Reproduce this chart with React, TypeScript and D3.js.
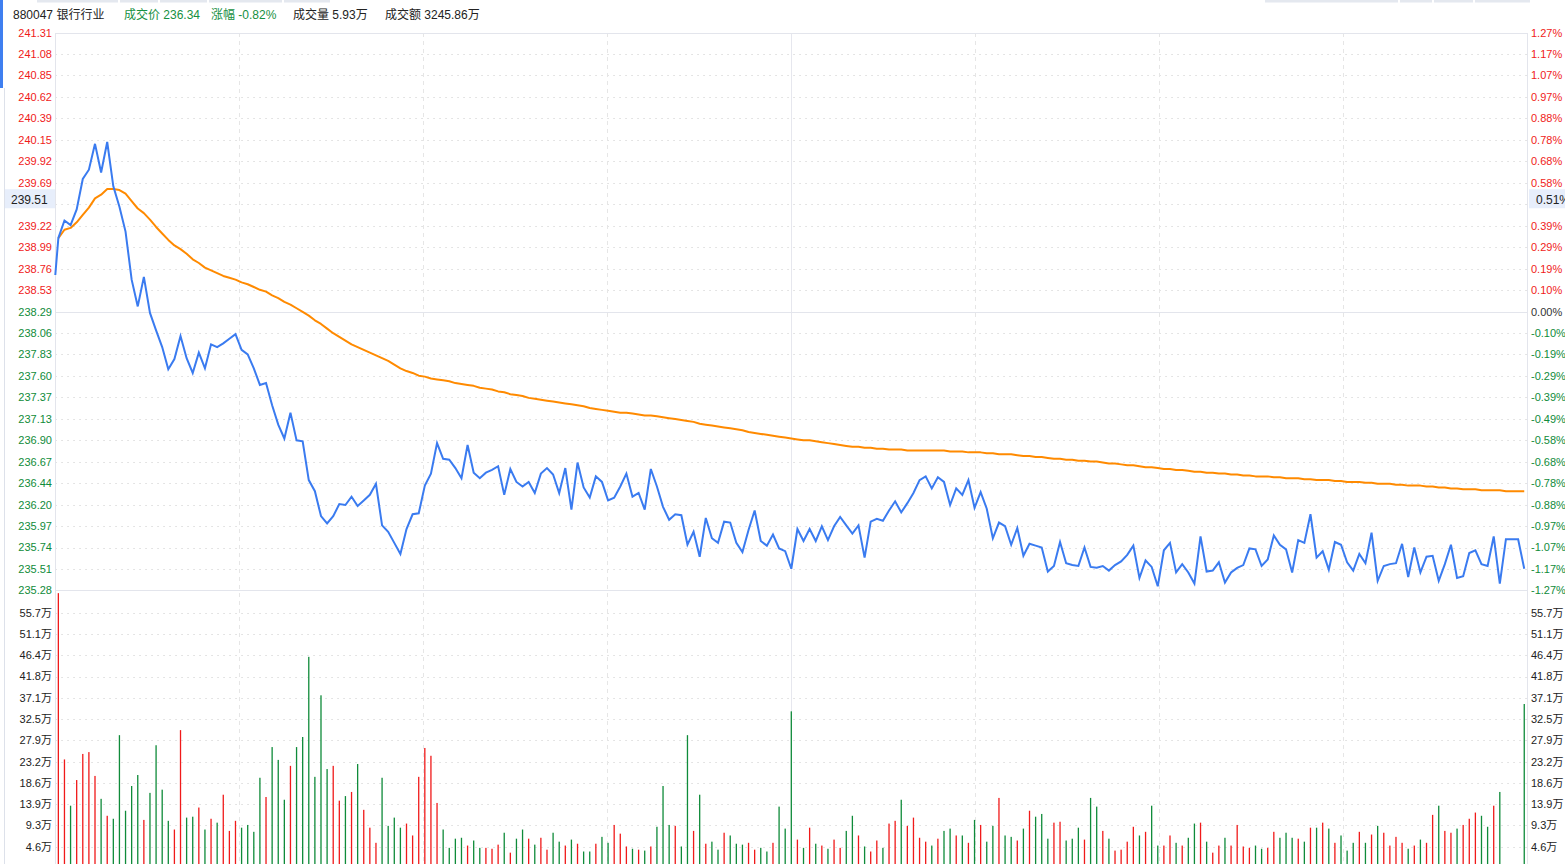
import React, { useRef, useEffect } from "react";
import * as d3 from "d3";

// 昨收 and the first printed point at the left edge
const prevClose = 238.29;
const openPrice = 238.69;

// minute prices, 9:30 .. 15:00 (241 bars)
const prices = [
  239.09, 239.28, 239.23, 239.40, 239.73, 239.83, 240.11, 239.80, 240.13, 239.65,
  239.43, 239.16, 238.64, 238.35, 238.67, 238.28, 238.09, 237.91, 237.67, 237.78,
  238.03, 237.79, 237.63, 237.85, 237.68, 237.94, 237.91, 237.95, 238.00, 238.05,
  237.88, 237.83, 237.68, 237.50, 237.52, 237.28, 237.07, 236.92, 237.20, 236.90,
  236.89, 236.47, 236.35, 236.08, 236.00, 236.08, 236.21, 236.20, 236.29, 236.19,
  236.25, 236.31, 236.43, 235.98, 235.91, 235.79, 235.67, 235.94, 236.10, 236.11,
  236.41, 236.54, 236.87, 236.70, 236.69, 236.60, 236.49, 236.85, 236.55, 236.49,
  236.55, 236.58, 236.62, 236.31, 236.59, 236.45, 236.40, 236.45, 236.33, 236.54,
  236.60, 236.53, 236.33, 236.60, 236.15, 236.66, 236.39, 236.28, 236.51, 236.45,
  236.25, 236.28, 236.40, 236.54, 236.29, 236.33, 236.15, 236.59, 236.40, 236.18,
  236.04, 236.10, 236.09, 235.77, 235.91, 235.64, 236.06, 235.84, 235.79, 236.02,
  236.01, 235.79, 235.69, 235.93, 236.14, 235.81, 235.76, 235.88, 235.73, 235.70,
  235.51, 235.94, 235.81, 235.94, 235.81, 235.97, 235.82, 235.97, 236.07, 235.98,
  235.89, 235.98, 235.63, 236.02, 236.05, 236.03, 236.14, 236.24, 236.12, 236.22,
  236.33, 236.47, 236.51, 236.38, 236.50, 236.45, 236.20, 236.38, 236.31, 236.47,
  236.17, 236.34, 236.16, 235.84, 236.01, 235.97, 235.77, 235.95, 235.65, 235.78,
  235.76, 235.74, 235.48, 235.54, 235.80, 235.57, 235.55, 235.54, 235.74, 235.53,
  235.52, 235.54, 235.49, 235.55, 235.59, 235.66, 235.76, 235.41, 235.60, 235.53,
  235.32, 235.71, 235.79, 235.47, 235.56, 235.47, 235.35, 235.86, 235.48, 235.49,
  235.58, 235.36, 235.47, 235.52, 235.55, 235.73, 235.72, 235.54, 235.61, 235.87,
  235.77, 235.72, 235.47, 235.82, 235.79, 236.10, 235.63, 235.70, 235.50, 235.80,
  235.77, 235.58, 235.49, 235.67, 235.57, 235.90, 235.38, 235.54, 235.56, 235.57,
  235.78, 235.42, 235.74, 235.47, 235.64, 235.65, 235.38, 235.56, 235.77, 235.41,
  235.43, 235.68, 235.71, 235.56, 235.54, 235.86, 235.35, 235.83, 235.83, 235.83,
  235.51,
];

// 均价
const avgPrices = [
  239.09, 239.18, 239.20, 239.26, 239.34, 239.42, 239.52, 239.56, 239.62, 239.62,
  239.61, 239.57, 239.49, 239.41, 239.36, 239.29, 239.21, 239.14, 239.07, 239.01,
  238.97, 238.92, 238.86, 238.82, 238.77, 238.74, 238.71, 238.68, 238.66, 238.64,
  238.61, 238.59, 238.56, 238.53, 238.51, 238.47, 238.44, 238.40, 238.37, 238.33,
  238.29, 238.25, 238.20, 238.16, 238.11, 238.06, 238.02, 237.98, 237.94, 237.91,
  237.88, 237.85, 237.82, 237.79, 237.76, 237.72, 237.68, 237.65, 237.63, 237.60,
  237.59, 237.57, 237.56, 237.55, 237.54, 237.52, 237.51, 237.50, 237.49, 237.47,
  237.46, 237.45, 237.43, 237.42, 237.40, 237.39, 237.38, 237.36, 237.35, 237.34,
  237.33, 237.32, 237.31, 237.30, 237.29, 237.28, 237.27, 237.25, 237.24, 237.23,
  237.22, 237.21, 237.20, 237.20, 237.19, 237.18, 237.17, 237.17, 237.16, 237.15,
  237.14, 237.13, 237.12, 237.11, 237.10, 237.08, 237.07, 237.06, 237.05, 237.04,
  237.03, 237.02, 237.01, 236.99, 236.98, 236.97, 236.96, 236.95, 236.94, 236.93,
  236.92, 236.91, 236.90, 236.90, 236.89, 236.88, 236.87, 236.86, 236.85, 236.84,
  236.83, 236.83, 236.82, 236.82, 236.81, 236.81, 236.80, 236.80, 236.80, 236.79,
  236.79, 236.79, 236.79, 236.79, 236.79, 236.79, 236.78, 236.78, 236.78, 236.77,
  236.77, 236.77, 236.76, 236.76, 236.75, 236.75, 236.75, 236.74, 236.73, 236.73,
  236.72, 236.72, 236.71, 236.70, 236.70, 236.69, 236.69, 236.68, 236.68, 236.67,
  236.67, 236.66, 236.65, 236.65, 236.64, 236.63, 236.63, 236.62, 236.61, 236.61,
  236.60, 236.59, 236.59, 236.58, 236.58, 236.57, 236.56, 236.56, 236.55, 236.55,
  236.54, 236.54, 236.53, 236.53, 236.52, 236.52, 236.51, 236.51, 236.51, 236.50,
  236.50, 236.49, 236.49, 236.49, 236.48, 236.48, 236.47, 236.47, 236.47, 236.46,
  236.46, 236.45, 236.45, 236.45, 236.44, 236.44, 236.43, 236.43, 236.43, 236.42,
  236.42, 236.41, 236.41, 236.41, 236.40, 236.40, 236.39, 236.39, 236.38, 236.38,
  236.37, 236.37, 236.37, 236.36, 236.36, 236.36, 236.36, 236.35, 236.35, 236.35,
  236.35,
];

// 成交量, 万
const volumes = [
  60.0, 23.7, 13.6, 19.2, 24.9, 25.3, 20.1, 15.1, 11.4, 10.75,
  29.0, 12.5, 17.9, 20.3, 10.5, 16.4, 26.8, 17.1, 10.3, 8.4,
  30.1, 11.0, 11.2, 13.2, 8.4, 10.75, 9.9, 16.0, 8.1, 10.3,
  8.8, 9.4, 7.9, 19.7, 15.5, 26.4, 23.6, 14.9, 22.3, 26.4,
  28.6, 46.1, 19.9, 37.7, 21.6, 22.3, 14.7, 15.7, 16.6, 22.7,
  12.7, 8.8, 5.5, 19.7, 9.2, 11.0, 8.8, 9.7, 7.1, 19.9,
  26.2, 24.5, 14.2, 8.4, 4.4, 6.4, 6.6, 4.9, 6.0, 4.4,
  4.4, 4.2, 5.1, 7.7, 3.35, 6.4, 8.4, 6.4, 5.1, 6.6,
  4.0, 7.7, 5.75, 4.9, 6.2, 5.3, 3.6, 3.6, 5.3, 6.8,
  5.5, 9.4, 7.5, 4.7, 4.2, 4.0, 3.8, 4.7, 9.0, 17.9,
  9.4, 9.2, 4.7, 29.0, 8.1, 16.0, 5.3, 5.75, 4.0, 7.7,
  7.1, 5.3, 5.1, 5.5, 4.0, 4.4, 3.6, 5.5, 13.4, 8.6,
  34.2, 6.2, 4.4, 8.8, 5.3, 4.9, 4.2, 6.2, 4.4, 8.1,
  11.4, 7.1, 4.7, 3.6, 6.0, 4.4, 9.7, 10.3, 14.9, 9.2,
  11.0, 6.6, 5.75, 4.9, 6.4, 8.1, 8.6, 7.1, 7.1, 5.5,
  10.5, 9.4, 5.75, 9.2, 15.3, 7.1, 6.8, 6.0, 8.6, 12.5,
  11.2, 11.8, 6.4, 9.9, 10.1, 6.0, 6.4, 8.8, 6.2, 15.3,
  13.4, 8.1, 6.4, 3.8, 4.0, 5.75, 9.0, 7.1, 7.9, 13.6,
  4.9, 4.9, 7.1, 5.5, 4.9, 6.6, 9.7, 9.9, 5.75, 3.35,
  4.9, 6.6, 4.9, 9.4, 4.7, 4.4, 4.9, 4.2, 4.4, 7.9,
  6.6, 7.7, 6.6, 6.4, 5.75, 8.8, 8.8, 9.9, 8.6, 5.5,
  7.1, 3.8, 5.5, 7.9, 5.5, 7.3, 9.2, 7.7, 4.9, 6.8,
  5.5, 4.2, 4.9, 6.2, 5.5, 11.6, 13.6, 8.1, 7.7, 8.6,
  9.4, 10.75, 12.1, 11.4, 9.0, 13.6, 16.6, 0, 0, 0,
  35.8,
];

// tick at index 8 sits under the crosshair label, so it is not printed
const priceTicks = [
  "241.31", "241.08", "240.85", "240.62", "240.39", "240.15", "239.92", "239.69", "239.46",
  "239.22", "238.99", "238.76", "238.53", "238.29", "238.06", "237.83", "237.60", "237.37",
  "237.13", "236.90", "236.67", "236.44", "236.20", "235.97", "235.74", "235.51", "235.28",
];
const pctTicks = [
  "1.27%", "1.17%", "1.07%", "0.97%", "0.88%", "0.78%", "0.68%", "0.58%", "0.49%",
  "0.39%", "0.29%", "0.19%", "0.10%", "0.00%", "-0.10%", "-0.19%", "-0.29%", "-0.39%",
  "-0.49%", "-0.58%", "-0.68%", "-0.78%", "-0.88%", "-0.97%", "-1.07%", "-1.17%", "-1.27%",
];
const volTicks = [55.7, 51.1, 46.4, 41.8, 37.1, 32.5, 27.9, 23.2, 18.6, 13.9, 9.3, 4.6];

const header = [
  { x: 13, text: "880047 银行行业", color: "#222" },
  { x: 124, text: "成交价 236.34", color: "#16903f" },
  { x: 211, text: "涨幅 -0.82%", color: "#16903f" },
  { x: 293, text: "成交量 5.93万", color: "#222" },
  { x: 385, text: "成交额 3245.86万", color: "#222" },
];

const crossPrice = "239.51";
const crossPct = "0.51%";
const hiddenTick = 8;

const RED = "#f01a1a";
const GREEN = "#0f8b3a";
const FONT = "'Liberation Sans', Arial, 'Noto Sans CJK SC', sans-serif";

export default function App() {
  const ref = useRef<SVGSVGElement | null>(null);

  useEffect(() => {
    const width = 1565;
    const height = 864;
    const left = 55.3;
    const right = 1527.3;
    const top = 33;
    const mid = 590;

    d3.select(ref.current).selectAll("*").remove();
    const svg = d3
      .select(ref.current)
      .attr("width", width)
      .attr("height", height)
      .style("background", "#fff")
      .style("font-family", FONT);

    const x = d3
      .scaleBand<number>()
      .domain(d3.range(prices.length))
      .range([left, right]);
    const cx = (i: number) => (x(i) as number) + x.bandwidth() / 2;

    const y = d3.scaleLinear().domain([235.28, 241.31]).range([mid, top]);
    const yv = d3.scaleLinear().domain([0, 60.36]).range([868, 591.5]);

    // top tab remains + left bar
    const tabs = [[37, 118], [120, 158], [160, 207], [209, 282], [284, 330], [1265, 1398], [1400, 1432], [1434, 1473], [1475, 1530]];
    svg
      .append("g")
      .selectAll("rect")
      .data(tabs)
      .join("rect")
      .attr("x", (d) => d[0])
      .attr("y", 0)
      .attr("width", (d) => d[1] - d[0])
      .attr("height", 2.5)
      .attr("fill", "#e4e8ef");
    svg.append("rect").attr("x", 0).attr("y", 0).attr("width", 3).attr("height", 88).attr("fill", "#3f7ff0");
    svg.append("line").attr("x1", 4.5).attr("x2", 4.5).attr("y1", 88).attr("y2", height).attr("stroke", "#dde1ea");

    // header
    svg
      .append("g")
      .selectAll("text")
      .data(header)
      .join("text")
      .attr("x", (d) => d.x)
      .attr("y", 19)
      .attr("font-size", 12)
      .attr("fill", (d) => d.color)
      .text((d) => d.text);

    const grid = svg.append("g");

    // dotted horizontal grid, price panel
    priceTicks.forEach((t, i) => {
      if (i === 0 || i === 13 || i === priceTicks.length - 1) return;
      grid
        .append("line")
        .attr("x1", left)
        .attr("x2", right)
        .attr("y1", Math.round(y(+t)) + 0.5)
        .attr("y2", Math.round(y(+t)) + 0.5)
        .attr("stroke", "#dcdcdc")
        .attr("stroke-dasharray", "1.5,4.5");
    });
    // dotted horizontal grid, volume panel
    volTicks.forEach((v) => {
      grid
        .append("line")
        .attr("x1", left)
        .attr("x2", right)
        .attr("y1", Math.round(yv(v)) + 0.5)
        .attr("y2", Math.round(yv(v)) + 0.5)
        .attr("stroke", "#dcdcdc")
        .attr("stroke-dasharray", "1.5,4.5");
    });

    // vertical lines every 1/8 of the width
    d3.range(1, 8).forEach((j) => {
      const gx = Math.round(left + (j * (right - left)) / 8) + 0.5;
      grid
        .append("line")
        .attr("x1", gx)
        .attr("x2", gx)
        .attr("y1", top)
        .attr("y2", height)
        .attr("stroke", j === 4 ? "#e6e7ee" : "#e6e6e6")
        .attr("stroke-dasharray", j === 4 ? null : "4,4");
    });

    // frame
    const frame = "#e3e5ec";
    grid.append("line").attr("x1", left).attr("x2", right).attr("y1", top + 0.5).attr("y2", top + 0.5).attr("stroke", frame);
    grid.append("line").attr("x1", left).attr("x2", right).attr("y1", Math.round(y(prevClose)) + 0.5).attr("y2", Math.round(y(prevClose)) + 0.5).attr("stroke", frame);
    grid.append("line").attr("x1", left).attr("x2", right).attr("y1", mid + 0.5).attr("y2", mid + 0.5).attr("stroke", frame);
    grid.append("line").attr("x1", left + 0.2).attr("x2", left + 0.2).attr("y1", top).attr("y2", height).attr("stroke", frame);
    grid.append("line").attr("x1", right + 0.2).attr("x2", right + 0.2).attr("y1", top).attr("y2", height).attr("stroke", frame);

    // volume bars
    svg
      .append("g")
      .selectAll("rect")
      .data(volumes)
      .join("rect")
      .attr("x", (_, i) => cx(i) - 0.65)
      .attr("y", (d) => yv(d))
      .attr("width", 1.3)
      .attr("height", (d) => Math.max(0, yv(0) - yv(d)))
      .attr("fill", (_, i) => (prices[i] >= (i === 0 ? prevClose : prices[i - 1]) ? RED : GREEN));

    // avg line
    const avgLine = d3
      .line<number>()
      .x((_, i) => cx(i))
      .y((d) => y(d));
    svg
      .append("path")
      .datum(avgPrices)
      .attr("d", avgLine)
      .attr("fill", "none")
      .attr("stroke", "#ff8a00")
      .attr("stroke-width", 2)
      .attr("stroke-linejoin", "round");

    // price line, starting from the left edge
    const pts: [number, number][] = [[left, y(openPrice)]].concat(
      prices.map((p, i) => [cx(i), y(p)] as [number, number])
    ) as [number, number][];
    svg
      .append("path")
      .datum(pts)
      .attr("d", d3.line())
      .attr("fill", "none")
      .attr("stroke", "#3a7bf0")
      .attr("stroke-width", 2)
      .attr("stroke-linejoin", "miter");

    // axes labels
    const axis = svg.append("g").attr("font-size", 11);
    priceTicks.forEach((t, i) => {
      if (i === hiddenTick) return;
      const ty = y(+t);
      const c = i < 13 ? RED : GREEN;
      axis.append("text").attr("x", 52).attr("y", ty).attr("dy", "0.36em").attr("text-anchor", "end").attr("fill", c).text(t);
      axis
        .append("text")
        .attr("x", 1531)
        .attr("y", ty)
        .attr("dy", "0.36em")
        .attr("fill", i < 13 ? RED : i === 13 ? "#333" : GREEN)
        .text(pctTicks[i]);
    });
    volTicks.forEach((v) => {
      const ty = yv(v);
      axis.append("text").attr("x", 52).attr("y", ty).attr("dy", "0.36em").attr("text-anchor", "end").attr("fill", "#222").text(`${v}万`);
      axis.append("text").attr("x", 1531).attr("y", ty).attr("dy", "0.36em").attr("fill", "#222").text(`${v}万`);
    });

    // crosshair labels
    const cy = y(+crossPrice);
    svg.append("rect").attr("x", 5).attr("y", cy - 10).attr("width", 50).attr("height", 19).attr("fill", "#e7eefb");
    svg.append("text").attr("x", 11).attr("y", cy).attr("dy", "0.36em").attr("font-size", 12).attr("fill", "#222").text(crossPrice);
    svg.append("rect").attr("x", 1529).attr("y", cy - 10).attr("width", 40).attr("height", 19).attr("fill", "#e7eefb");
    svg.append("text").attr("x", 1536).attr("y", cy).attr("dy", "0.36em").attr("font-size", 12).attr("fill", "#222").text(crossPct);
  }, []);

  return <svg ref={ref} style={{ position: "fixed", left: 0, top: 0, display: "block" }}></svg>;
}
